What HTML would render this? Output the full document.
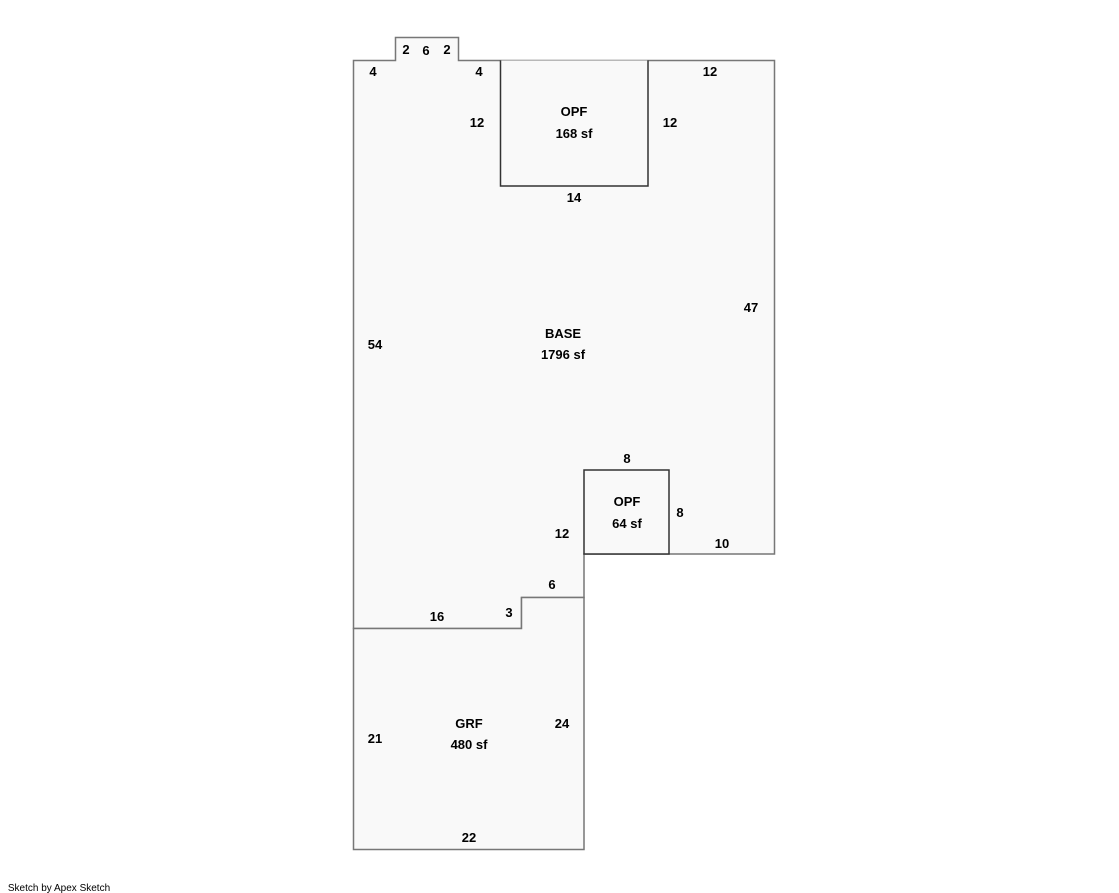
<!DOCTYPE html>
<html><head><style>html,body{margin:0;padding:0;background:#fff;width:1119px;height:893px;overflow:hidden}</style></head>
<body>
<svg width="1119" height="893" xmlns="http://www.w3.org/2000/svg" font-family="Liberation Sans, sans-serif" font-size="13" font-weight="bold" text-anchor="middle">
<g fill="#f9f9f9" stroke="#777" stroke-width="1.5">
<path d="M353.5 60.5 H395.5 V37.5 H458.5 V60.5 H774.5 V554 H584 V597.5 H521.5 V628.5 H353.5 Z"/>
<path d="M353.5 628.5 H521.5 V597.5 H584 V849.5 H353.5 Z"/>
</g>
<g fill="#f9f9f9" stroke="#333" stroke-width="1.5">
<path d="M500.5 60.5 V186 H648 V60.5"/>
<rect x="584" y="470" width="85" height="84"/>
</g>
<g fill="#000">
<text x="406" y="54">2</text><text x="426" y="55">6</text><text x="447" y="54">2</text>
<text x="373" y="76">4</text><text x="479" y="76">4</text><text x="710" y="76">12</text>
<text x="477" y="127">12</text><text x="670" y="127">12</text>
<text x="574" y="116">OPF</text><text x="574" y="138">168 sf</text>
<text x="574" y="202">14</text>
<text x="751" y="312">47</text><text x="375" y="349">54</text>
<text x="563" y="338">BASE</text><text x="563" y="359">1796 sf</text>
<text x="627" y="463">8</text><text x="680" y="517">8</text>
<text x="627" y="506">OPF</text><text x="627" y="528">64 sf</text>
<text x="562" y="538">12</text><text x="722" y="548">10</text>
<text x="552" y="589">6</text><text x="509" y="617">3</text><text x="437" y="621">16</text>
<text x="469" y="728">GRF</text><text x="469" y="749">480 sf</text>
<text x="375" y="743">21</text><text x="562" y="728">24</text><text x="469" y="842">22</text>
<text x="59" y="891" font-size="10" font-weight="normal">Sketch by Apex Sketch</text>
</g>
</svg>
</body></html>
